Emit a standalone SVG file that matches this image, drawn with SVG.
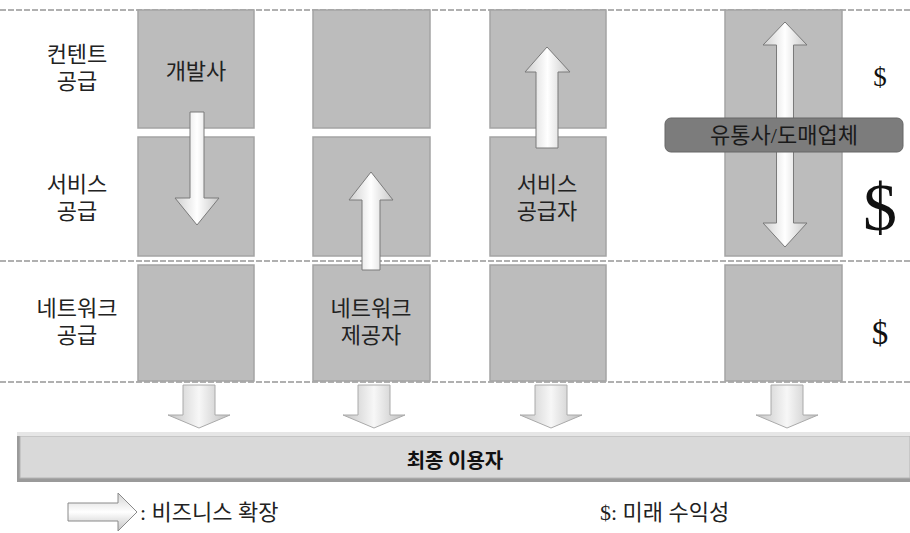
<svg xmlns="http://www.w3.org/2000/svg" width="910" height="533" viewBox="0 0 910 533">
<style>
.box{fill:#bcbcbc;stroke:#a4a4a4;stroke-width:1.5}
.lbl{font-family:"Liberation Serif","Noto Sans CJK KR",serif;font-size:22px;fill:#222;text-anchor:middle}
.dol{font-family:"Liberation Serif","Noto Sans CJK KR",serif;fill:#111;text-anchor:middle}
.grid{stroke:#b0b0b0;stroke-width:2;stroke-dasharray:6 2;fill:none}
.arr{fill:url(#gv);stroke:#7a7a7a;stroke-width:1}
.darr{fill:url(#gv2);stroke:#aaa;stroke-width:1}
</style>
<defs>
<linearGradient id="gv" x1="0" y1="0" x2="1" y2="0">
<stop offset="0" stop-color="#cfcfcf"/><stop offset="0.5" stop-color="#ffffff"/><stop offset="1" stop-color="#c8c8c8"/>
</linearGradient>
<linearGradient id="gv2" x1="0" y1="0" x2="1" y2="0">
<stop offset="0" stop-color="#c4c4c4"/><stop offset="0.5" stop-color="#f7f7f7"/><stop offset="1" stop-color="#bdbdbd"/>
</linearGradient>
<linearGradient id="gh" x1="0" y1="0" x2="0" y2="1">
<stop offset="0" stop-color="#d4d4d4"/><stop offset="0.5" stop-color="#ffffff"/><stop offset="1" stop-color="#c4c4c4"/>
</linearGradient>
</defs>
<rect width="910" height="533" fill="#fff"/>
<g id="grid">
<line class="grid" x1="0" y1="10" x2="910" y2="10"/>
<line class="grid" x1="0" y1="261" x2="910" y2="261"/>
<line class="grid" x1="0" y1="382" x2="910" y2="382"/>
</g>
<g id="row-labels">
<text class="lbl" x="77" y="62">컨텐트</text><text class="lbl" x="77" y="89">공급</text>
<text class="lbl" x="77" y="192">서비스</text><text class="lbl" x="77" y="219">공급</text>
<text class="lbl" x="77" y="316">네트워크</text><text class="lbl" x="77" y="343">공급</text>
</g>
<g id="col1">
<rect class="box" x="138" y="10" width="116" height="118"/>
<rect class="box" x="138" y="137" width="116" height="119"/>
<rect class="box" x="138" y="265" width="116" height="116"/>
<text class="lbl" x="196" y="79">개발사</text>
</g>
<g id="col2">
<rect class="box" x="313" y="10" width="117" height="118"/>
<rect class="box" x="313" y="137" width="117" height="119"/>
<rect class="box" x="313" y="265" width="117" height="116"/>
<text class="lbl" x="371" y="316">네트워크</text><text class="lbl" x="371" y="343">제공자</text>
</g>
<g id="col3">
<rect class="box" x="490" y="10" width="116" height="118"/>
<rect class="box" x="490" y="137" width="116" height="119"/>
<rect class="box" x="490" y="265" width="116" height="116"/>
<text class="lbl" x="547" y="192">서비스</text><text class="lbl" x="547" y="219">공급자</text>
</g>
<g id="col4">
<rect class="box" x="725" y="10" width="117" height="246"/>
<rect class="box" x="725" y="265" width="117" height="116"/>
</g>
<g id="connectors">
<path class="arr" d="M190,112 H204 V198 H219 L197,225 L175,198 H190 Z"/>
<path class="arr" d="M362,270 V200 H349 L371,172 L393,200 H380 V270 Z"/>
<path class="arr" d="M536,148 V72 H525 L547,47 L570,72 H558 V148 Z"/>
<path class="arr" d="M776.5,45 H763 L785,22 L807,45 H793.5 V223 H807 L785,247 L763,223 H776.5 Z"/>
<path class="darr" d="M183,385 H215 V415 H230 L199,428 L168,415 H183 Z"/>
<path class="darr" d="M358,385 H390 V415 H405 L374,428 L343,415 H358 Z"/>
<path class="darr" d="M535,385 H567 V415 H582 L551,428 L520,415 H535 Z"/>
<path class="darr" d="M771,385 H803 V415 H818 L787,428 L756,415 H771 Z"/>
</g>
<g id="distributor">
<rect x="665" y="118" width="238" height="34" rx="6" fill="#7c7c7c" stroke="#666" stroke-width="1"/>
<text class="lbl" x="784" y="143" style="fill:#1a1a1a">유통사/도매업체</text>
</g>
<g id="revenue">
<text class="dol" x="880" y="86" font-size="27">$</text>
<text class="dol" x="880" y="230" font-size="68">$</text>
<text class="dol" x="880" y="344" font-size="33">$</text>
</g>
<g id="end-user">
<rect x="17" y="432" width="893" height="50" fill="#9a9a9a"/>
<rect x="20" y="436" width="890" height="42" fill="#d9d9d9" stroke="#b4b4b4" stroke-width="1"/>
<rect x="17" y="432" width="893" height="4" fill="#e6e6e6"/>
<text x="455" y="468" font-family="'Noto Sans CJK KR','Liberation Sans',sans-serif" font-size="20" font-weight="bold" fill="#111" text-anchor="middle">최종 이용자</text>
</g>
<g id="legend">
<path d="M68,503 H118 V493 L137,512 L118,531 V521 H68 Z" fill="url(#gh)" stroke="#8a8a8a" stroke-width="1"/>
<text class="lbl" x="140" y="520" style="text-anchor:start">: 비즈니스 확장</text>
<text class="lbl" x="600" y="520" style="text-anchor:start">$: 미래 수익성</text>
</g>
</svg>
